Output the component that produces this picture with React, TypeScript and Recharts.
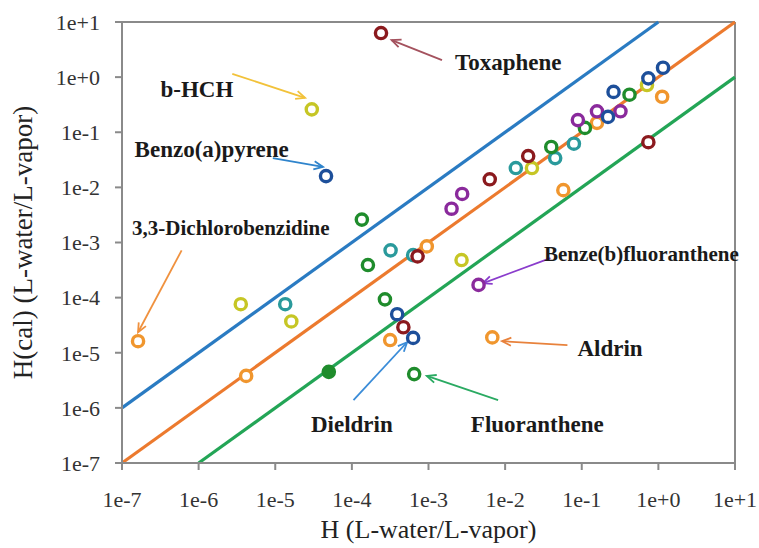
import React from 'react';
import { ScatterChart, Scatter, XAxis, YAxis, ReferenceLine, ReferenceDot, Label } from 'recharts';

const FONT = '"Liberation Serif", "Times New Roman", serif';

const decadeTicks = [1e-7, 1e-6, 1e-5, 1e-4, 1e-3, 1e-2, 1e-1, 1, 10];
const tickLabels = ['1e-7', '1e-6', '1e-5', '1e-4', '1e-3', '1e-2', '1e-1', '1e+0', '1e+1'];

const xTitle = 'H (L-water/L-vapor)';
const yTitle = 'H(cal) (L-water/L-vapor)';

// [H measured, H calculated]
const orangePoints = [
  [1.62e-7, 1.62e-5], [4.17e-6, 3.8e-6], [3.16e-4, 1.7e-5], [9.5e-4, 8.5e-4],
  [6.8e-3, 1.9e-5], [5.75e-2, 8.9e-3], [1.12, 0.44], [0.158, 0.148],
];
const yellowPoints = [
  [3.0e-5, 0.26], [3.55e-6, 7.6e-5], [1.62e-5, 3.7e-5], [2.7e-3, 4.8e-4],
  [2.24e-2, 2.24e-2], [0.71, 0.72],
];
const tealPoints = [
  [1.35e-5, 7.6e-5], [3.2e-4, 7.2e-4], [6.3e-4, 5.9e-4], [1.38e-2, 2.24e-2],
  [4.5e-2, 3.4e-2], [7.9e-2, 6.2e-2],
];
const darkRedPoints = [
  [2.4e-4, 6.3], [7.2e-4, 5.6e-4], [4.7e-4, 2.9e-5], [6.3e-3, 1.4e-2],
  [2.0e-2, 3.7e-2], [0.74, 6.6e-2],
];
const greenPoints = [
  [1.35e-4, 2.6e-3], [1.62e-4, 3.9e-4], [2.7e-4, 9.3e-5], [6.5e-4, 4.1e-6],
  [4.0e-2, 5.4e-2], [0.11, 0.12], [0.42, 0.48],
];
const greenFilledPoints = [[5.0e-5, 4.5e-6]];
const purplePoints = [
  [4.5e-3, 1.7e-4], [2.0e-3, 4.1e-3], [2.75e-3, 7.6e-3], [8.9e-2, 0.166],
  [0.158, 0.24], [0.32, 0.24],
];
const bluePoints = [
  [4.6e-5, 1.6e-2], [3.9e-4, 5.0e-5], [6.3e-4, 1.86e-5], [0.26, 0.54],
  [0.22, 0.19], [0.74, 0.95], [1.15, 1.48],
];

const series = [
  { name: 'orange', color: '#f0962e', points: orangePoints, filled: false },
  { name: 'yellow', color: '#c6c625', points: yellowPoints, filled: false },
  { name: 'teal', color: '#2a9a9c', points: tealPoints, filled: false },
  { name: 'darkred', color: '#8b1a1e', points: darkRedPoints, filled: false },
  { name: 'green', color: '#1f8c2c', points: greenPoints, filled: false },
  { name: 'greenFilled', color: '#1f8c2c', points: greenFilledPoints, filled: true },
  { name: 'purple', color: '#8a2a9c', points: purplePoints, filled: false },
  { name: 'blue', color: '#1d4f9a', points: bluePoints, filled: false },
];

const fitLines = [
  { color: '#2a7bc2', from: [1e-7, 1e-6], to: [1, 10] },
  { color: '#ec7a2e', from: [1e-7, 1e-7], to: [10, 10] },
  { color: '#23a556', from: [1e-6, 1e-7], to: [10, 1] },
];

const annotations = [
  { label: 'Toxaphene', color: '#a4525e', size: 23, text: [1.1e-2, 1.86], from: [1.5e-3, 2.04], to: [3.3e-4, 4.7] },
  { label: 'b-HCH', color: '#f2c23a', size: 23, text: [9.5e-7, 0.6], from: [2.75e-6, 1.15], to: [2.45e-5, 0.42] },
  { label: 'Benzo(a)pyrene', color: '#2f84cc', size: 23, text: [1.48e-6, 4.8e-2], from: [9.3e-6, 3.4e-2], to: [4.2e-5, 2.35e-2] },
  { label: '3,3-Dichlorobenzidine', color: '#f0913e', size: 21, text: [2.63e-6, 1.8e-3], from: [6.0e-7, 7.2e-4], to: [1.62e-7, 2.35e-5] },
  { label: 'Benze(b)fluoranthene', color: '#8a3ccc', size: 21, text: [0.6, 6.2e-4], from: [3.9e-2, 5.2e-4], to: [5.1e-3, 1.82e-4] },
  { label: 'Aldrin', color: '#e8823c', size: 23, text: [0.234, 1.2e-5], from: [6.5e-2, 1.38e-5], to: [9.1e-3, 1.62e-5] },
  { label: 'Dieldrin', color: '#3a8cd8', size: 23, text: [1.0e-4, 5.0e-7], from: [1.05e-4, 1.38e-6], to: [5.25e-4, 1.55e-5] },
  { label: 'Fluoranthene', color: '#2aaa62', size: 23, text: [2.63e-2, 5.0e-7], from: [8.1e-3, 1.38e-6], to: [9.5e-4, 3.8e-6] },
];

const ringShape = (color: string, filled: boolean) => (props: any) => {
  const { cx, cy } = props;
  if (cx == null || cy == null) return <g />;
  return (
    <circle cx={cx} cy={cy} r={5.6} fill={filled ? color : '#ffffff'} stroke={color} strokeWidth={3.4} />
  );
};

const fitLineShape = (color: string) => (props: any) => {
  const { x1, y1, x2, y2 } = props;
  return <line x1={x1} y1={y1} x2={x2} y2={y2} stroke={color} strokeWidth={3.2} strokeLinecap="butt" />;
};

const arrowShape = (color: string) => (props: any) => {
  const { x1, y1, x2, y2 } = props;
  const ang = Math.atan2(y2 - y1, x2 - x1);
  const head = 10;
  const spread = 0.42;
  const ax = x2 - head * Math.cos(ang - spread);
  const ay = y2 - head * Math.sin(ang - spread);
  const bx = x2 - head * Math.cos(ang + spread);
  const by = y2 - head * Math.sin(ang + spread);
  return (
    <g>
      <line x1={x1} y1={y1} x2={x2} y2={y2} stroke={color} strokeWidth={1.8} />
      <polyline points={`${ax},${ay} ${x2},${y2} ${bx},${by}`} fill="none" stroke={color} strokeWidth={1.8} />
    </g>
  );
};

const textShape = (label: string, size: number) => (props: any) => {
  const { cx, cy } = props;
  return (
    <text x={cx} y={cy} textAnchor="middle" dominantBaseline="central" fontFamily={FONT}
      fontWeight="bold" fontSize={size} fill="#1a1a1a">
      {label}
    </text>
  );
};

const tickStyle = { fontFamily: FONT, fontSize: 22, fill: '#333333' };

export default function App() {
  return (
    <div style={{ position: 'absolute', left: 0, top: 0, width: 759, height: 548, background: '#ffffff' }}>
      <ScatterChart width={759} height={548} margin={{ top: 22, right: 24, left: 0, bottom: 0 }}>
        <XAxis
          type="number"
          dataKey="x"
          scale="log"
          domain={[1e-7, 10]}
          allowDataOverflow
          ticks={decadeTicks}
          tickFormatter={(v: number, i: number) => tickLabels[i]}
          tick={tickStyle}
          tickSize={7}
          tickMargin={21}
          height={85}
          stroke="#8a8a8a"
          strokeWidth={2}
          interval={0}
        >
          <Label
            content={(p: any) => {
              const vb = p.viewBox || {};
              return (
                <text x={vb.x + vb.width / 2} y={538} textAnchor="middle" fontFamily={FONT} fontSize={26} fill="#222">
                  {xTitle}
                </text>
              );
            }}
          />
        </XAxis>
        <YAxis
          type="number"
          dataKey="y"
          scale="log"
          domain={[1e-7, 10]}
          allowDataOverflow
          ticks={decadeTicks}
          tickFormatter={(v: number, i: number) => tickLabels[i]}
          tick={tickStyle}
          tickSize={7}
          tickMargin={15}
          width={122}
          stroke="#8a8a8a"
          strokeWidth={2}
          interval={0}
        >
          <Label
            content={(p: any) => {
              const vb = p.viewBox || {};
              const cy = vb.y + vb.height / 2;
              return (
                <text x={32} y={cy} textAnchor="middle" fontFamily={FONT} fontSize={27} fill="#222"
                  transform={`rotate(-90, 32, ${cy})`}>
                  {yTitle}
                </text>
              );
            }}
          />
        </YAxis>
        <ReferenceLine y={10} stroke="#8a8a8a" strokeWidth={2} ifOverflow="visible" />
        <ReferenceLine x={10} stroke="#8a8a8a" strokeWidth={2} ifOverflow="visible" />
        {fitLines.map((l, i) => (
          <ReferenceLine
            key={`fit-${i}`}
            segment={[{ x: l.from[0], y: l.from[1] }, { x: l.to[0], y: l.to[1] }]}
            ifOverflow="visible"
            shape={fitLineShape(l.color)}
          />
        ))}
        {annotations.map((a, i) => (
          <ReferenceLine
            key={`arrow-${i}`}
            segment={[{ x: a.from[0], y: a.from[1] }, { x: a.to[0], y: a.to[1] }]}
            ifOverflow="visible"
            shape={arrowShape(a.color)}
          />
        ))}
        {series.map((s) => (
          <Scatter
            key={s.name}
            name={s.name}
            data={s.points.map(([x, y]) => ({ x, y }))}
            shape={ringShape(s.color, s.filled)}
            isAnimationActive={false}
          />
        ))}
        {annotations.map((a, i) => (
          <ReferenceDot
            key={`txt-${i}`}
            x={a.text[0]}
            y={a.text[1]}
            r={0}
            ifOverflow="visible"
            shape={textShape(a.label, a.size)}
          />
        ))}
      </ScatterChart>
    </div>
  );
}
